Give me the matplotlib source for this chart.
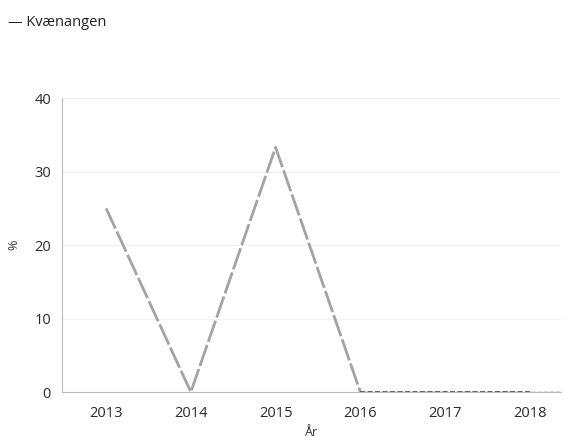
import matplotlib
matplotlib.use('Agg')
import matplotlib.pyplot as plt

# data
years = [2013, 2014, 2015, 2016, 2017, 2018]
kvaenangen = [25, 0, 33.3, 0, 0, 0]
yticks = [0, 10, 20, 30, 40]

plt.rcParams['font.family'] = ['Open Sans', 'DejaVu Sans']

fig = plt.figure(figsize=(5.64, 4.44), dpi=100)
ax = fig.add_axes([0.11, 0.117, 0.885, 0.662])

ax.plot(years[:4], kvaenangen[:4], color='#a3a3a3', lw=2.0, dashes=(8, 1.2))
ax.plot(years[3:], kvaenangen[3:], color='#444444', lw=1.2, dashes=(3, 1.5))
ax.axhline(0, xmin=0.6, color='#555555', lw=1.0, dashes=(3, 1.5))

ax.set_xlim(2012.48, 2018.37)
ax.set_ylim(0, 40)
ax.set_xticks(years)
ax.set_yticks(yticks)
ax.tick_params(length=0, labelsize=10.5, colors='#2a2a2a', pad=10)
ax.tick_params(axis='y', pad=8)
ax.yaxis.grid(True, color='#f2f2f2', lw=0.8)

for s in ['top', 'right']:
    ax.spines[s].set_visible(False)
ax.spines['left'].set_color('#bbbbbb')
ax.spines['bottom'].set_color('#bbbbbb')

ax.set_xlabel('År', fontsize=9, color='#333333')
ax.set_ylabel('%', fontsize=9, color='#333333', rotation=90, labelpad=10)

fig.text(0.015, 0.95, '— Kvænangen', fontsize=10.5, color='#222222', va='center')

fig.savefig('out.png', dpi=100)
